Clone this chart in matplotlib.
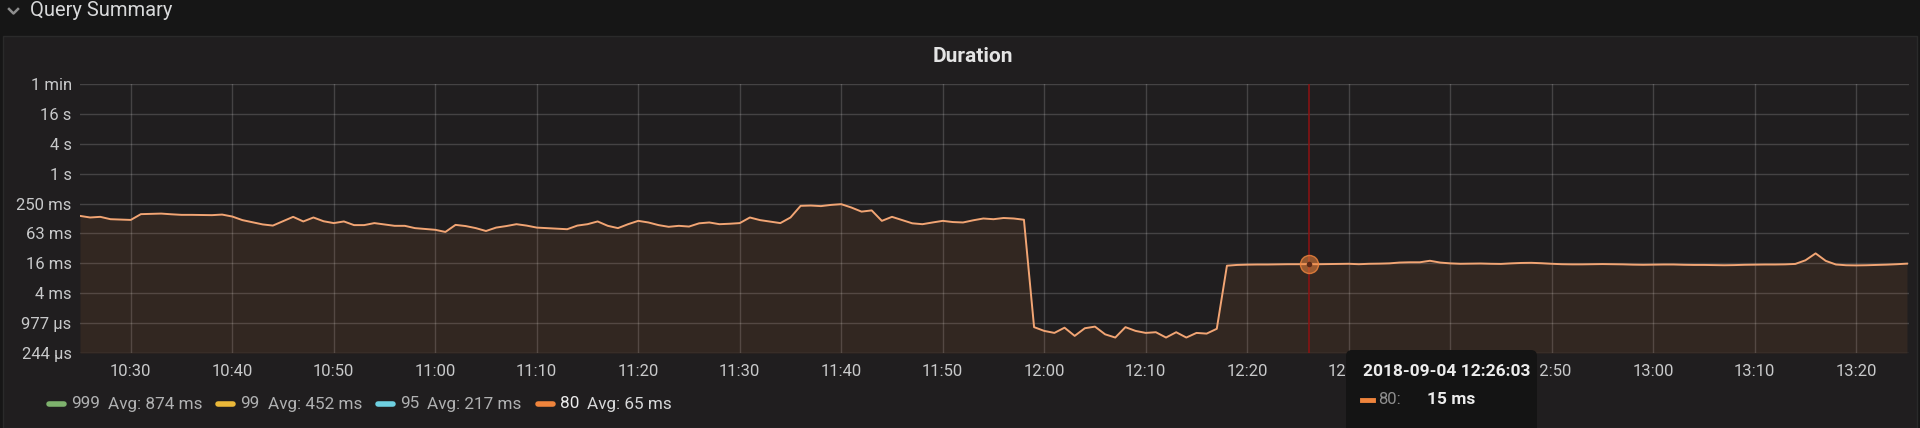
import numpy as np
import pandas as pd
import matplotlib
matplotlib.use('Agg')
import matplotlib.pyplot as plt
import matplotlib.dates as mdates
from matplotlib.patches import FancyBboxPatch, Rectangle
from matplotlib.lines import Line2D

plt.rcParams['font.family'] = ['Roboto', 'DejaVu Sans']

# p80 query duration (ms), one point per minute starting 10:25
p80_ms = [141, 131, 135, 121, 119, 117, 153, 155, 157, 152,
          148, 148, 147, 146, 150, 137, 116, 105, 95, 90,
          110, 135, 109, 131, 110, 101, 109, 92, 92, 101,
          95, 89, 89, 80, 77, 74, 67, 93, 88, 80,
          70, 82, 88, 96, 90, 82, 80, 78, 76, 90,
          96, 109, 89, 80, 96, 112, 104, 92, 85, 89,
          86, 100, 104, 96, 98, 101, 131, 116, 108, 101,
          131, 225, 228, 222, 235, 243, 208, 172, 182, 112,
          135, 116, 100, 96, 104, 112, 106, 104, 115, 125,
          121, 128, 125, 118, 0.81, 0.68, 0.62, 0.79, 0.54, 0.77,
          0.83, 0.58, 0.50, 0.81, 0.68, 0.62, 0.64, 0.50, 0.64, 0.50,
          0.62, 0.60, 0.75, 14.0, 14.5, 14.7, 14.8, 14.8, 14.9, 15.0,
          15.0, 15.1, 15.0, 15.1, 15.2, 15.3, 15.0, 15.3, 15.4, 15.6,
          16.2, 16.4, 16.4, 17.6, 16.2, 15.6, 15.3, 15.4, 15.5, 15.3,
          15.2, 15.6, 15.9, 16.0, 15.7, 15.3, 15.0, 14.9, 14.9, 15.0,
          15.1, 15.0, 14.9, 14.7, 14.6, 14.7, 14.8, 14.8, 14.6, 14.5,
          14.5, 14.4, 14.3, 14.4, 14.6, 14.7, 14.8, 14.8, 14.9, 15.2,
          18.0, 24.8, 17.5, 14.8, 14.3, 14.2, 14.3, 14.5, 14.7, 15.0,
          15.4]
times = pd.date_range('2018-09-04 10:25', periods=len(p80_ms), freq='1min')

y_ticks_s = [2.0 ** e for e in range(-12, 7, 2)]
y_tick_labels = ['244 µs', '977 µs', '4 ms', '16 ms', '63 ms', '250 ms', '1 s', '4 s', '16 s', '1 min']
x_ticks = pd.date_range('2018-09-04 10:30', '2018-09-04 13:20', freq='10min')

legend_names = ['999', '99', '95', '80']
legend_avgs = ['Avg: 874 ms', 'Avg: 452 ms', 'Avg: 217 ms', 'Avg: 65 ms']
legend_colors = ['#7EB26D', '#EAB839', '#6ED0E0', '#EF843C']
legend_shown = [False, False, False, True]

hover_time = pd.Timestamp('2018-09-04 12:26:03')
hover_ms = 15

W, H = 1920, 428
fig = plt.figure(figsize=(W / 100, H / 100), dpi=100, facecolor='#161616')

def fx(px):
    return px / W

def fy(py):
    return 1 - py / H

# header + panel
fig.add_artist(Rectangle((fx(3), 0), fx(1914), fy(36), transform=fig.transFigure,
                         fc='#201e1f', ec='#2a2a2a', lw=1, zorder=0))
fig.add_artist(Line2D([fx(9), fx(13.5), fx(18)], [fy(9), fy(13.5), fy(9)],
                      transform=fig.transFigure, color='#8e8e8e', lw=1.8))
fig.text(fx(30), fy(11), 'Query Summary', color='#d8d9da', fontsize=14.5,
         va='center', ha='left')
fig.text(fx(973), fy(57), 'Duration', color='#e4e4e4', fontsize=15,
         fontweight='bold', ha='center', va='center')

ax = fig.add_axes([fx(80), 75 / H, fx(1829), 269 / H])
ax.set_facecolor('none')
vals = np.array(p80_ms) / 1000.0
ax.fill_between(times, vals, 2.0 ** -12, color='#EF843C', alpha=0.09, lw=0)
ax.plot(times, vals, color='#f2a574', lw=1.4, solid_joinstyle='round')

ax.set_yscale('log', base=2)
ax.set_ylim(2.0 ** -12, 2.0 ** 6)
ax.set_yticks(y_ticks_s)
ax.set_yticklabels(y_tick_labels)
ax.minorticks_off()
ax.set_xlim(times[0], pd.Timestamp('2018-09-04 13:25:12'))
ax.set_xticks(x_ticks)
ax.xaxis.set_major_formatter(mdates.DateFormatter('%H:%M'))
ax.grid(True, color='#ffffff', alpha=0.17, lw=1)
ax.set_axisbelow(True)
for s in ax.spines.values():
    s.set_visible(False)
ax.tick_params(axis='both', length=0, colors='#c8c9ca', labelsize=12)
ax.tick_params(axis='y', pad=6)
ax.tick_params(axis='x', pad=8)

# hover crosshair + point
ax.axvline(hover_time, color='#8e1212', lw=1.1)
ax.plot([hover_time], [hover_ms / 1000.0], 'o', ms=13, mfc=(0.94, 0.52, 0.24, 0.55),
        mec=(0.94, 0.52, 0.24, 0.8), mew=1)
ax.plot([hover_time], [hover_ms / 1000.0], 'o', ms=4, mfc='#5a2a18', mec='none')

# legend
fig.canvas.draw()
r = fig.canvas.get_renderer()
x = 49
ly = fy(404)
for name, avg, col, shown in zip(legend_names, legend_avgs, legend_colors, legend_shown):
    fig.add_artist(Line2D([fx(x), fx(x + 15)], [ly, ly], transform=fig.transFigure,
                          color=col, lw=4, solid_capstyle='round'))
    x += 22
    t = fig.text(fx(x), ly, name, color='#ececec' if shown else '#b0b1b2',
                 fontsize=12.3, va='center', ha='left')
    x = t.get_window_extent(r).x1 + 8
    t = fig.text(fx(x), ly, avg, color='#d8d9da' if shown else '#b0b1b2',
                 fontsize=12.3, va='center', ha='left')
    x = t.get_window_extent(r).x1 + 16

# tooltip
tip = FancyBboxPatch((13.46, -0.1), 1.91, 0.88, boxstyle='round,pad=0,rounding_size=0.06',
                     transform=fig.dpi_scale_trans, fc='#141414', ec='none', zorder=20)
fig.add_artist(tip)
fig.text(fx(1363), fy(371), hover_time.strftime('%Y-%m-%d %H:%M:%S'), color='#ececec',
         fontsize=12.5, fontweight='bold', va='center', ha='left', zorder=21)
fig.add_artist(Line2D([fx(1362), fx(1373)], [fy(400), fy(400)], transform=fig.transFigure,
                      color='#EF843C', lw=3.5, zorder=21))
fig.text(fx(1378), fy(400), '80:', color='#8e8e8e', fontsize=12, va='center',
         ha='left', zorder=21)
fig.text(fx(1427), fy(400), f'{hover_ms} ms', color='#ececec', fontsize=12.5,
         fontweight='bold', va='center', ha='left', zorder=21)

fig.savefig('out.png', dpi=100, facecolor=fig.get_facecolor())
